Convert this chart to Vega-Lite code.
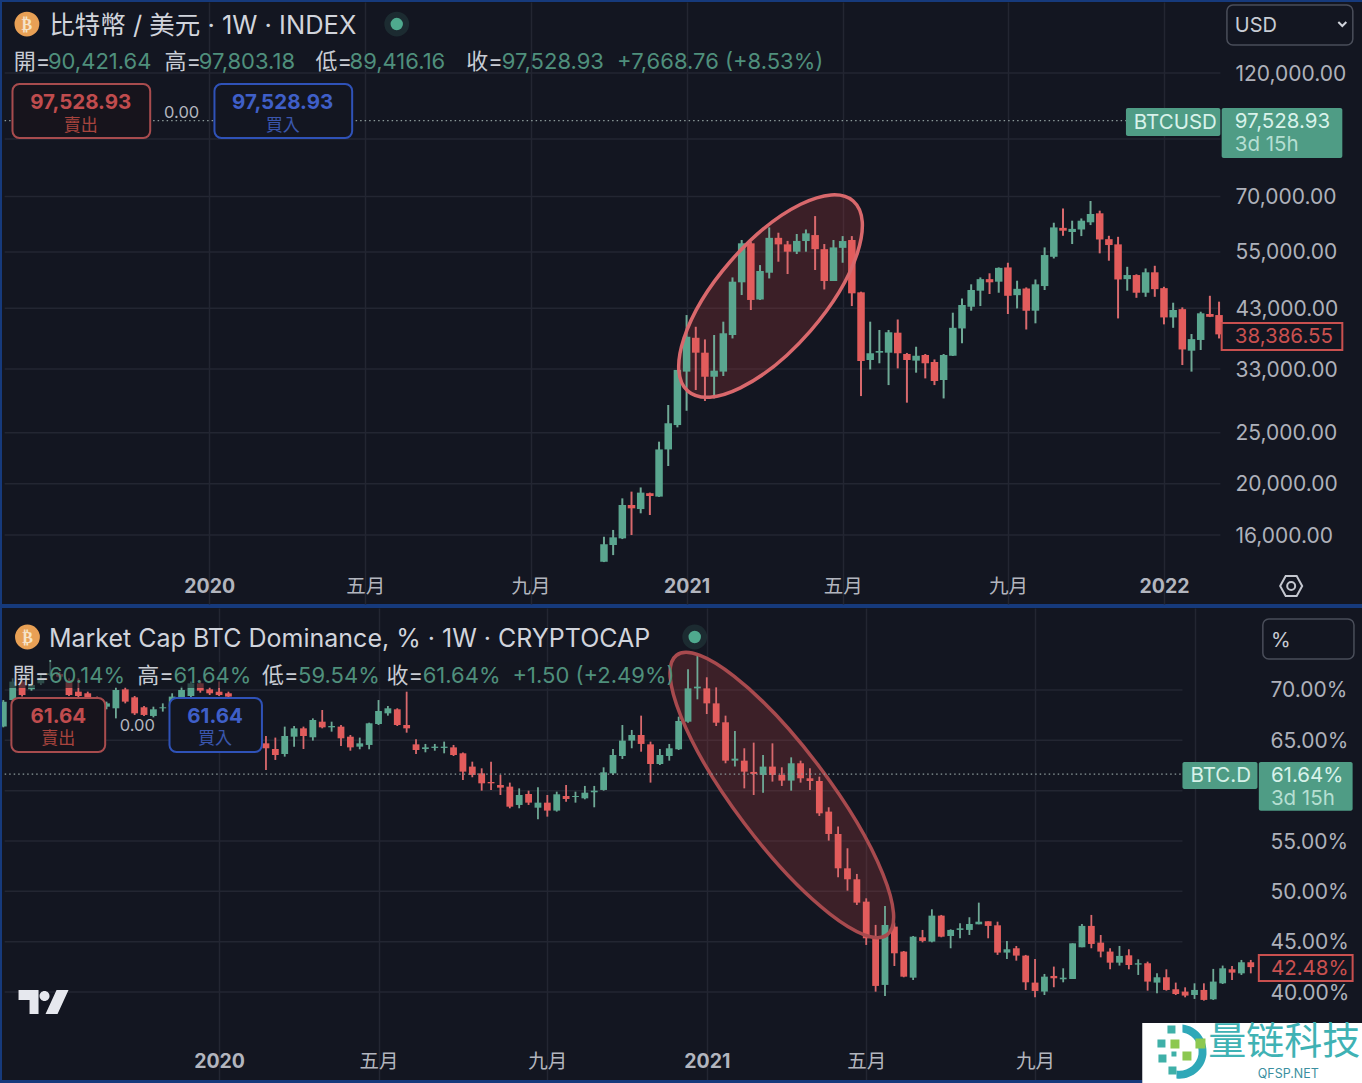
{"$schema":"https://vega.github.io/schema/vega-lite/v6.json","background":"#163a7c","padding":{"left":2,"top":2,"right":0,"bottom":0},"spacing":4,"config":{"view":{"fill":"#131621","stroke":null},"text":{"font":"Inter, 'Noto Sans CJK TC', sans-serif","align":"left","baseline":"middle","dy":1},"axis":{"labelFont":"Inter, 'Noto Sans CJK TC', sans-serif","title":null}},
"datasets":{
"btc":[{"t":"2020-11-02","o":14240,"h":15880,"l":14220,"c":15370},{"t":"2020-11-09","o":15320,"h":16360,"l":14660,"c":15840},{"t":"2020-11-16","o":15770,"h":18775,"l":15720,"c":18240},{"t":"2020-11-23","o":18240,"h":19335,"l":16000,"c":17975},{"t":"2020-11-30","o":17920,"h":19690,"l":17590,"c":19250},{"t":"2020-12-07","o":19200,"h":19250,"l":17460,"c":18970},{"t":"2020-12-14","o":18920,"h":24040,"l":18890,"c":23240},{"t":"2020-12-21","o":23240,"h":28210,"l":21620,"c":26050},{"t":"2020-12-28","o":25850,"h":32870,"l":25590,"c":32870},{"t":"2021-01-04","o":32630,"h":41760,"l":27510,"c":37990},{"t":"2021-01-11","o":37820,"h":39680,"l":30120,"c":35440},{"t":"2021-01-18","o":35440,"h":37550,"l":28710,"c":31910},{"t":"2021-01-25","o":31910,"h":38280,"l":29030,"c":32770},{"t":"2021-02-01","o":32630,"h":40570,"l":32010,"c":38570},{"t":"2021-02-08","o":38280,"h":49210,"l":37710,"c":48300},{"t":"2021-02-15","o":48170,"h":57930,"l":45570,"c":57100},{"t":"2021-02-22","o":57100,"h":57500,"l":42690,"c":44600},{"t":"2021-03-01","o":44690,"h":51930,"l":44600,"c":50610},{"t":"2021-03-08","o":50230,"h":61200,"l":48990,"c":58480},{"t":"2021-03-15","o":58480,"h":59800,"l":52700,"c":56840},{"t":"2021-03-22","o":56840,"h":57700,"l":49940,"c":55050},{"t":"2021-03-29","o":55050,"h":59460,"l":54490,"c":57700},{"t":"2021-04-05","o":57670,"h":60650,"l":55050,"c":59640},{"t":"2021-04-12","o":59190,"h":64300,"l":50830,"c":55660},{"t":"2021-04-19","o":55660,"h":56920,"l":46690,"c":48450},{"t":"2021-04-26","o":48450,"h":57930,"l":48450,"c":56090},{"t":"2021-05-03","o":55980,"h":58930,"l":52460,"c":57670},{"t":"2021-05-10","o":57930,"h":58930,"l":43430,"c":45910},{"t":"2021-05-17","o":46110,"h":46240,"l":29330,"c":34180},{"t":"2021-05-24","o":34330,"h":40570,"l":32940,"c":35350},{"t":"2021-05-31","o":35440,"h":39130,"l":33840,"c":35700},{"t":"2021-06-07","o":35440,"h":39130,"l":30770,"c":38740},{"t":"2021-06-14","o":38670,"h":40960,"l":33090,"c":35350},{"t":"2021-06-21","o":35240,"h":35400,"l":28500,"c":34330},{"t":"2021-06-28","o":34230,"h":36370,"l":32480,"c":34970},{"t":"2021-07-05","o":35080,"h":35240,"l":31680,"c":33840},{"t":"2021-07-12","o":34030,"h":34410,"l":30770,"c":31320},{"t":"2021-07-19","o":31460,"h":35240,"l":29030,"c":35080},{"t":"2021-07-26","o":34970,"h":42190,"l":34930,"c":39500},{"t":"2021-08-02","o":39390,"h":44890,"l":36920,"c":43630},{"t":"2021-08-09","o":43300,"h":47750,"l":42560,"c":46580},{"t":"2021-08-16","o":46440,"h":49210,"l":43430,"c":48840},{"t":"2021-08-23","o":48840,"h":50100,"l":45770,"c":48170},{"t":"2021-08-30","o":48300,"h":51400,"l":46030,"c":51300},{"t":"2021-09-06","o":51400,"h":52460,"l":41950,"c":45420},{"t":"2021-09-13","o":45540,"h":48510,"l":42990,"c":46820},{"t":"2021-09-20","o":46900,"h":47110,"l":39210,"c":42560},{"t":"2021-09-27","o":42560,"h":48770,"l":40280,"c":47750},{"t":"2021-10-04","o":47390,"h":56090,"l":46580,"c":54250},{"t":"2021-10-11","o":53840,"h":62460,"l":53450,"c":61200},{"t":"2021-10-18","o":61080,"h":66470,"l":59000,"c":60330},{"t":"2021-10-25","o":59980,"h":63020,"l":56920,"c":60810},{"t":"2021-11-01","o":60650,"h":63640,"l":58930,"c":63020},{"t":"2021-11-08","o":62580,"h":68670,"l":61830,"c":64880},{"t":"2021-11-15","o":65080,"h":65830,"l":54660,"c":58060},{"t":"2021-11-22","o":58140,"h":59000,"l":52930,"c":56670},{"t":"2021-11-29","o":56840,"h":58740,"l":41150,"c":48770},{"t":"2021-12-06","o":48840,"h":51540,"l":46440,"c":49720},{"t":"2021-12-13","o":49720,"h":49880,"l":45020,"c":46030},{"t":"2021-12-20","o":46030,"h":51170,"l":45220,"c":50320},{"t":"2021-12-27","o":50320,"h":51770,"l":45220,"c":46750},{"t":"2022-01-03","o":46960,"h":47240,"l":40100,"c":41330},{"t":"2022-01-10","o":41330,"h":44070,"l":39500,"c":42690},{"t":"2022-01-17","o":42850,"h":43180,"l":33580,"c":35940},{"t":"2022-01-24","o":35750,"h":38450,"l":32630,"c":37600},{"t":"2022-01-31","o":37460,"h":42370,"l":35860,"c":42080},{"t":"2022-02-07","o":41950,"h":45420,"l":41390,"c":41440},{"t":"2022-02-14","o":41760,"h":44270,"l":37710,"c":38386.55}],
"dom":[{"t":"2019-07-29","o":66.36,"h":69.0,"l":66.29,"c":68.84},{"t":"2019-08-05","o":69.0,"h":71.16,"l":68.84,"c":70.83},{"t":"2019-08-12","o":70.83,"h":71.0,"l":69.34,"c":69.5},{"t":"2019-08-19","o":70.06,"h":70.66,"l":69.93,"c":70.5},{"t":"2019-08-26","o":70.66,"h":71.49,"l":70.49,"c":71.16},{"t":"2019-09-02","o":71.49,"h":72.98,"l":71.39,"c":71.65},{"t":"2019-09-09","o":71.59,"h":71.79,"l":71.16,"c":71.32},{"t":"2019-09-16","o":70.99,"h":71.16,"l":69.4,"c":69.5},{"t":"2019-09-23","o":69.83,"h":71.16,"l":69.27,"c":69.4},{"t":"2019-09-30","o":69.67,"h":69.83,"l":69.0,"c":69.17},{"t":"2019-10-07","o":69.07,"h":69.34,"l":68.34,"c":68.51},{"t":"2019-10-14","o":68.34,"h":68.84,"l":68.08,"c":68.67},{"t":"2019-10-21","o":68.18,"h":70.26,"l":67.18,"c":70.0},{"t":"2019-10-28","o":70.06,"h":70.26,"l":68.67,"c":68.84},{"t":"2019-11-04","o":69.27,"h":69.4,"l":67.52,"c":67.68},{"t":"2019-11-11","o":68.28,"h":68.41,"l":67.42,"c":67.52},{"t":"2019-11-18","o":67.42,"h":68.34,"l":67.28,"c":68.08},{"t":"2019-11-25","o":68.18,"h":68.67,"l":67.85,"c":68.28},{"t":"2019-12-02","o":68.34,"h":69.67,"l":68.18,"c":69.34},{"t":"2019-12-09","o":69.0,"h":70.33,"l":68.84,"c":70.0},{"t":"2019-12-16","o":69.4,"h":70.83,"l":69.17,"c":70.66},{"t":"2019-12-23","o":70.66,"h":70.92,"l":69.73,"c":69.93},{"t":"2019-12-30","o":70.06,"h":70.26,"l":69.5,"c":69.67},{"t":"2020-01-06","o":69.83,"h":70.83,"l":69.4,"c":69.5},{"t":"2020-01-13","o":69.67,"h":69.83,"l":69.0,"c":69.34},{"t":"2020-01-20","o":69.0,"h":69.17,"l":67.85,"c":68.01},{"t":"2020-01-27","o":68.01,"h":68.18,"l":66.52,"c":66.69},{"t":"2020-02-03","o":66.52,"h":66.69,"l":64.87,"c":65.03},{"t":"2020-02-10","o":64.7,"h":65.43,"l":62.05,"c":64.21},{"t":"2020-02-17","o":64.14,"h":65.27,"l":63.05,"c":63.54},{"t":"2020-02-24","o":63.64,"h":66.36,"l":63.38,"c":65.43},{"t":"2020-03-02","o":65.36,"h":66.42,"l":64.37,"c":66.19},{"t":"2020-03-09","o":66.19,"h":66.36,"l":64.14,"c":65.43},{"t":"2020-03-16","o":65.3,"h":67.18,"l":64.97,"c":67.02},{"t":"2020-03-23","o":66.85,"h":68.01,"l":66.19,"c":66.29},{"t":"2020-03-30","o":66.29,"h":66.85,"l":65.86,"c":66.42},{"t":"2020-04-06","o":66.36,"h":66.52,"l":64.44,"c":65.2},{"t":"2020-04-13","o":65.36,"h":65.53,"l":63.97,"c":64.3},{"t":"2020-04-20","o":64.37,"h":65.27,"l":64.11,"c":64.7},{"t":"2020-04-27","o":64.54,"h":66.75,"l":64.11,"c":66.69},{"t":"2020-05-04","o":66.62,"h":69.0,"l":66.52,"c":67.91},{"t":"2020-05-11","o":67.68,"h":68.41,"l":67.45,"c":68.18},{"t":"2020-05-18","o":68.08,"h":68.18,"l":66.42,"c":66.52},{"t":"2020-05-25","o":66.52,"h":69.83,"l":65.76,"c":66.19},{"t":"2020-06-01","o":64.6,"h":65.1,"l":63.64,"c":64.04},{"t":"2020-06-08","o":64.14,"h":64.64,"l":63.81,"c":64.3},{"t":"2020-06-15","o":64.24,"h":64.64,"l":63.97,"c":64.37},{"t":"2020-06-22","o":64.24,"h":64.87,"l":63.71,"c":64.37},{"t":"2020-06-29","o":64.3,"h":64.54,"l":63.44,"c":63.54},{"t":"2020-07-06","o":63.71,"h":63.78,"l":61.06,"c":61.89},{"t":"2020-07-13","o":62.39,"h":62.88,"l":61.33,"c":61.56},{"t":"2020-07-20","o":61.72,"h":62.22,"l":60.0,"c":60.73},{"t":"2020-07-27","o":60.86,"h":62.88,"l":60.07,"c":60.73},{"t":"2020-08-03","o":60.56,"h":61.56,"l":59.57,"c":60.3},{"t":"2020-08-10","o":60.4,"h":60.8,"l":58.25,"c":58.41},{"t":"2020-08-17","o":58.58,"h":60.23,"l":58.25,"c":59.57},{"t":"2020-08-24","o":59.67,"h":60.0,"l":58.58,"c":58.81},{"t":"2020-08-31","o":58.31,"h":60.33,"l":57.16,"c":58.81},{"t":"2020-09-07","o":58.81,"h":59.57,"l":57.42,"c":58.02},{"t":"2020-09-14","o":58.02,"h":59.9,"l":57.92,"c":59.64},{"t":"2020-09-21","o":59.47,"h":60.56,"l":58.91,"c":59.17},{"t":"2020-09-28","o":59.37,"h":59.9,"l":58.81,"c":59.47},{"t":"2020-10-05","o":59.24,"h":60.47,"l":59.14,"c":59.8},{"t":"2020-10-12","o":59.84,"h":60.47,"l":58.35,"c":60.0},{"t":"2020-10-19","o":60.07,"h":62.32,"l":60.0,"c":61.82},{"t":"2020-10-26","o":61.72,"h":64.14,"l":61.56,"c":63.54},{"t":"2020-11-02","o":63.44,"h":66.52,"l":63.15,"c":64.97},{"t":"2020-11-09","o":64.97,"h":66.03,"l":64.21,"c":65.53},{"t":"2020-11-16","o":65.53,"h":67.45,"l":63.87,"c":64.64},{"t":"2020-11-23","o":64.6,"h":64.87,"l":60.8,"c":62.65},{"t":"2020-11-30","o":62.65,"h":64.14,"l":62.55,"c":63.54},{"t":"2020-12-07","o":63.44,"h":64.64,"l":62.98,"c":64.21},{"t":"2020-12-14","o":64.11,"h":67.35,"l":64.04,"c":66.92},{"t":"2020-12-21","o":66.85,"h":72.05,"l":66.75,"c":70.16},{"t":"2020-12-28","o":70.16,"h":73.37,"l":69.07,"c":70.33},{"t":"2021-01-04","o":70.16,"h":71.26,"l":67.61,"c":68.67},{"t":"2021-01-11","o":68.67,"h":70.26,"l":66.42,"c":66.75},{"t":"2021-01-18","o":66.79,"h":67.45,"l":62.72,"c":62.98},{"t":"2021-01-25","o":62.98,"h":65.93,"l":62.39,"c":63.18},{"t":"2021-02-01","o":62.98,"h":64.21,"l":60.23,"c":61.89},{"t":"2021-02-08","o":61.86,"h":64.77,"l":59.57,"c":61.66},{"t":"2021-02-15","o":61.56,"h":63.54,"l":59.8,"c":62.39},{"t":"2021-02-22","o":62.39,"h":64.7,"l":60.9,"c":61.56},{"t":"2021-03-01","o":61.56,"h":62.32,"l":60.47,"c":61.0},{"t":"2021-03-08","o":61.0,"h":63.31,"l":60.0,"c":62.72},{"t":"2021-03-15","o":62.72,"h":62.98,"l":60.8,"c":61.23},{"t":"2021-03-22","o":61.23,"h":62.22,"l":60.07,"c":60.96},{"t":"2021-03-29","o":60.96,"h":61.39,"l":57.49,"c":57.75},{"t":"2021-04-05","o":57.92,"h":58.35,"l":55.04,"c":55.7},{"t":"2021-04-12","o":55.7,"h":56.43,"l":51.4,"c":52.29},{"t":"2021-04-19","o":52.29,"h":54.28,"l":50.07,"c":51.2},{"t":"2021-04-26","o":51.2,"h":51.73,"l":48.65,"c":48.88},{"t":"2021-05-03","o":48.98,"h":49.31,"l":44.68,"c":45.34},{"t":"2021-05-10","o":45.5,"h":46.67,"l":40.04,"c":40.61},{"t":"2021-05-17","o":40.71,"h":48.55,"l":39.61,"c":46.66},{"t":"2021-05-24","o":46.5,"h":46.9,"l":42.59,"c":43.85},{"t":"2021-05-31","o":44.02,"h":44.08,"l":41.47,"c":41.53},{"t":"2021-06-07","o":41.43,"h":45.57,"l":41.2,"c":45.5},{"t":"2021-06-14","o":45.44,"h":46.17,"l":44.94,"c":45.08},{"t":"2021-06-21","o":45.01,"h":48.22,"l":44.94,"c":47.59},{"t":"2021-06-28","o":47.59,"h":47.66,"l":45.44,"c":45.5},{"t":"2021-07-05","o":45.57,"h":46.23,"l":44.35,"c":46.17},{"t":"2021-07-12","o":46.17,"h":46.83,"l":45.34,"c":46.33},{"t":"2021-07-19","o":46.17,"h":47.43,"l":45.67,"c":46.76},{"t":"2021-07-26","o":46.73,"h":48.88,"l":46.73,"c":46.99},{"t":"2021-08-02","o":47.03,"h":47.03,"l":45.34,"c":46.57},{"t":"2021-08-09","o":46.63,"h":46.99,"l":43.69,"c":43.92},{"t":"2021-08-16","o":43.92,"h":45.08,"l":43.29,"c":44.25},{"t":"2021-08-23","o":44.35,"h":44.58,"l":43.12,"c":43.62},{"t":"2021-08-30","o":43.62,"h":43.69,"l":40.21,"c":40.97},{"t":"2021-09-06","o":40.94,"h":43.29,"l":39.48,"c":40.11},{"t":"2021-09-13","o":40.05,"h":41.8,"l":39.71,"c":41.53},{"t":"2021-09-20","o":41.6,"h":42.53,"l":40.48,"c":41.37},{"t":"2021-09-27","o":41.27,"h":42.36,"l":40.97,"c":41.43},{"t":"2021-10-04","o":41.3,"h":44.84,"l":41.3,"c":44.84},{"t":"2021-10-11","o":44.45,"h":46.76,"l":44.45,"c":46.57},{"t":"2021-10-18","o":46.57,"h":47.66,"l":44.35,"c":44.78},{"t":"2021-10-25","o":44.91,"h":45.67,"l":43.45,"c":44.02},{"t":"2021-11-01","o":44.02,"h":44.35,"l":42.26,"c":42.92},{"t":"2021-11-08","o":42.92,"h":44.58,"l":42.63,"c":43.59},{"t":"2021-11-15","o":43.65,"h":44.25,"l":42.26,"c":42.69},{"t":"2021-11-22","o":42.73,"h":43.25,"l":41.7,"c":42.86},{"t":"2021-11-29","o":42.86,"h":43.02,"l":40.14,"c":41.04},{"t":"2021-12-06","o":40.94,"h":41.86,"l":39.88,"c":41.47},{"t":"2021-12-13","o":41.47,"h":42.26,"l":40.14,"c":40.21},{"t":"2021-12-20","o":40.28,"h":40.94,"l":39.71,"c":39.81},{"t":"2021-12-27","o":40.05,"h":40.47,"l":39.48,"c":39.65},{"t":"2022-01-03","o":39.71,"h":40.87,"l":39.32,"c":40.21},{"t":"2022-01-10","o":40.21,"h":40.87,"l":39.15,"c":39.22},{"t":"2022-01-17","o":39.28,"h":42.3,"l":39.22,"c":41.04},{"t":"2022-01-24","o":40.87,"h":42.63,"l":40.8,"c":42.36},{"t":"2022-01-31","o":42.26,"h":42.59,"l":41.2,"c":41.93},{"t":"2022-02-07","o":41.86,"h":43.19,"l":41.7,"c":42.96},{"t":"2022-02-14","o":42.96,"h":43.19,"l":41.86,"c":42.48}]
},
"vconcat":[
{"width":1360,"height":602,
"encoding":{"x":{"field":"t","type":"temporal","scale":{"type":"utc","padding":0,"domain":[{"year":2019,"month":8,"date":1,"utc":true},{"year":2022,"month":6,"date":3,"utc":true}]},"axis":{"orient":"bottom","offset":-18,"values":[{"year":2020,"month":1,"date":6,"utc":true},{"year":2020,"month":5,"date":4,"utc":true},{"year":2020,"month":9,"date":7,"utc":true},{"year":2021,"month":1,"date":4,"utc":true},{"year":2021,"month":5,"date":3,"utc":true},{"year":2021,"month":9,"date":6,"utc":true},{"year":2022,"month":1,"date":3,"utc":true}],"labelExpr":"utcmonth(datum.value)==0 ? ''+utcyear(datum.value) : (utcmonth(datum.value)==4 ? '五月' : '九月')","labelFontWeight":{"condition":{"test":"utcmonth(datum.value)==0","value":"bold"},"value":"normal"},"labelColor":"#b2b5be","labelFontSize":19.5,"labelPadding":0,"labelBaseline":"middle","tickSize":0,"domain":false,"grid":true,"gridColor":"#232632","gridWidth":1.5,"labelOverlap":false}},
"y":{"field":"v","type":"quantitative","scale":{"type":"log","domain":[11844,163560],"nice":false},"axis":{"orient":"right","offset":-127,"values":[120000,70000,55000,43000,33000,25000,20000,16000],"format":",.2f","labelColor":"#aeb1ba","labelFontSize":21,"labelAlign":"left","labelPadding":0,"labelOffset":1,"tickSize":0,"domain":false,"grid":false,"labelOverlap":false}}},
"layer":[
{"data":{"values":[{"t":"2019-08-03","t2":"2022-02-15","v":120000},{"t":"2019-08-03","t2":"2022-02-15","v":90000},{"t":"2019-08-03","t2":"2022-02-15","v":70000},{"t":"2019-08-03","t2":"2022-02-15","v":55000},{"t":"2019-08-03","t2":"2022-02-15","v":43000},{"t":"2019-08-03","t2":"2022-02-15","v":33000},{"t":"2019-08-03","t2":"2022-02-15","v":25000},{"t":"2019-08-03","t2":"2022-02-15","v":20000},{"t":"2019-08-03","t2":"2022-02-15","v":16000}]},"mark":{"type":"rule","color":"#232632","strokeWidth":1.5},"encoding":{"x2":{"field":"t2"}}},
{"data":{"values":[{"t":"2021-03-09","v":45370}]},"mark":{"type":"point","shape":"M -126 0 A 126 53 0 1 0 126 0 A 126 53 0 1 0 -126 0 Z","size":4,"angle":-49,"filled":true,"fill":"#b43c3c","fillOpacity":0.25,"opacity":1}},
{"data":{"name":"btc"},"mark":{"type":"rule","strokeWidth":2},"encoding":{"y":{"field":"h","type":"quantitative"},"y2":{"field":"l"},"color":{"condition":{"test":"datum.c>=datum.o","value":"#6fa996"},"value":"#d9696d"}}},
{"data":{"name":"btc"},"mark":{"type":"bar","size":7.5,"orient":"vertical"},"encoding":{"y":{"field":"o","type":"quantitative"},"y2":{"field":"c"},"color":{"condition":{"test":"datum.c>=datum.o","value":"#5aa68f"},"value":"#e25c5c"}}},
{"data":{"values":[{"t":"2021-03-09","v":45370}]},"mark":{"type":"point","shape":"M -126 0 A 126 53 0 1 0 126 0 A 126 53 0 1 0 -126 0 Z","size":4,"angle":-49,"filled":false,"stroke":"#d9686c","strokeWidth":3.5,"opacity":1}},
{"data":{"values":[{"t":"2019-08-03","t2":"2021-12-05","v":97528.93}]},"mark":{"type":"rule","color":"#8c9a9a","strokeWidth":1.3,"strokeDash":[1.5,3]},"encoding":{"x2":{"field":"t2"}}},
{"data":{"values":[{"t":"2019-08-09","t2":"2019-11-22","v":114380,"v2":90370}]},"mark":{"type":"rect","fill":"#17141c","stroke":"#a84c4e","strokeWidth":2,"cornerRadius":7},"encoding":{"x2":{"field":"t2"},"y2":{"field":"v2"}}},
{"data":{"values":[{"t":"2020-01-10","t2":"2020-04-24","v":114380,"v2":90370}]},"mark":{"type":"rect","fill":"#131621","stroke":"#2f52b8","strokeWidth":2,"cornerRadius":7},"encoding":{"x2":{"field":"t2"},"y2":{"field":"v2"}}},
{"data":{"values":[{"t":"2021-12-05","t2":"2022-02-15","v":103020,"v2":91170},{"t":"2022-02-16","t2":"2022-05-19","v":103020,"v2":82840}]},"mark":{"type":"rect","fill":"#4f9c85","cornerRadius":2},"encoding":{"x2":{"field":"t2"},"y2":{"field":"v2"}}},
{"data":{"values":[{"t":"2022-02-16","t2":"2022-05-19","v":40330,"v2":35860}]},"mark":{"type":"rect","fill":"#131621","stroke":"#c9504f","strokeWidth":2},"encoding":{"x2":{"field":"t2"},"y2":{"field":"v2"}}},
{"data":{"values":[{"t":"2022-02-20","t2":"2022-05-27","v":161420,"v2":135590}]},"mark":{"type":"rect","fill":"#131621","stroke":"#4a4e5a","strokeWidth":1.5,"cornerRadius":6},"encoding":{"x2":{"field":"t2"},"y2":{"field":"v2"}}},
{"data":{"values":[{"t":"2019-08-20","v":148570}]},"mark":{"type":"point","shape":"circle","size":616,"filled":true,"fill":"#e8a055","opacity":1}},
{"data":{"values":[{"t":"2020-05-28","v":148570}]},"mark":{"type":"point","shape":"circle","size":616,"filled":true,"fill":"#4fa98e","opacity":0.15}},
{"data":{"values":[{"t":"2020-05-28","v":148570}]},"mark":{"type":"point","shape":"circle","size":154,"filled":true,"fill":"#4fa98e","opacity":1}},
{"data":{"values":[{"t":"2022-05-19","v":148570}]},"mark":{"type":"point","shape":"M -4 -2 L 0 2 L 4 -2","size":4,"filled":false,"stroke":"#d1d4dc","strokeWidth":2,"opacity":1}},
{"data":{"values":[{"t":"2022-04-10","v":12810}]},"mark":{"type":"point","shape":"M -11 0 L -5.5 -10 L 5.5 -10 L 11 0 L 5.5 10 L -5.5 10 Z M 4 0 A 4 4 0 1 1 -4 0 A 4 4 0 1 1 4 0 Z","size":4,"filled":false,"stroke":"#c4c7cf","strokeWidth":2,"opacity":1}},
{"data":{"values":[{"text":"₿","t":"2019-08-20","v":148570}]},"mark":{"type":"text","align":"center","font":"DejaVu Sans","fontSize":16,"fontWeight":"bold","color":"#f6e3c8"},"encoding":{"text":{"field":"text"}}},
{"data":{"values":[{"text":"比特幣 / 美元 · 1W · INDEX","t":"2019-09-06","v":147950}]},"mark":{"type":"text","fontSize":25.5,"color":"#d1d4dc"},"encoding":{"text":{"field":"text"}}},
{"data":{"values":[{"text":"開=","t":"2019-08-10","v":126450},{"text":"高=","t":"2019-12-03","v":126450},{"text":"低=","t":"2020-03-27","v":126450},{"text":"收=","t":"2020-07-20","v":126450}]},"mark":{"type":"text","fontSize":22,"color":"#c8ccd4"},"encoding":{"text":{"field":"text"}}},
{"data":{"values":[{"text":"90,421.64","t":"2019-09-05","v":126450},{"text":"97,803.18","t":"2019-12-29","v":126450},{"text":"89,416.16","t":"2020-04-22","v":126450},{"text":"97,528.93","t":"2020-08-16","v":126450},{"text":"+7,668.76 (+8.53%)","t":"2020-11-12","v":126450}]},"mark":{"type":"text","fontSize":22,"color":"#4f8f7c"},"encoding":{"text":{"field":"text"}}},
{"data":{"values":[{"text":"97,528.93","t":"2019-09-30","v":105740}]},"mark":{"type":"text","align":"center","fontSize":20.5,"fontWeight":"bold","color":"#c04c4e"},"encoding":{"text":{"field":"text"}}},
{"data":{"values":[{"text":"賣出","t":"2019-09-30","v":95650}]},"mark":{"type":"text","align":"center","fontSize":17,"color":"#a8443e"},"encoding":{"text":{"field":"text"}}},
{"data":{"values":[{"text":"97,528.93","t":"2020-03-02","v":105740}]},"mark":{"type":"text","align":"center","fontSize":20.5,"fontWeight":"bold","color":"#3f5fc8"},"encoding":{"text":{"field":"text"}}},
{"data":{"values":[{"text":"買入","t":"2020-03-02","v":95650}]},"mark":{"type":"text","align":"center","fontSize":17,"color":"#3a56ae"},"encoding":{"text":{"field":"text"}}},
{"data":{"values":[{"text":"0.00","t":"2019-12-16","v":101230}]},"mark":{"type":"text","align":"center","fontSize":16.5,"color":"#b2b5be"},"encoding":{"text":{"field":"text"}}},
{"data":{"values":[{"text":"BTCUSD","t":"2021-12-11","v":96910},{"text":"97,528.93","t":"2022-02-26","v":97330}]},"mark":{"type":"text","fontSize":20.5,"color":"#d8f2ea"},"encoding":{"text":{"field":"text"}}},
{"data":{"values":[{"text":"3d 15h","t":"2022-02-26","v":88040}]},"mark":{"type":"text","fontSize":20.5,"color":"#b5dfd2"},"encoding":{"text":{"field":"text"}}},
{"data":{"values":[{"text":"38,386.55","t":"2022-02-26","v":38110}]},"mark":{"type":"text","fontSize":20.5,"color":"#c9504f"},"encoding":{"text":{"field":"text"}}},
{"data":{"values":[{"text":"USD","t":"2022-02-26","v":147950}]},"mark":{"type":"text","fontSize":20,"color":"#c8ccd4"},"encoding":{"text":{"field":"text"}}}
]},
{"width":1360,"height":475,
"encoding":{"x":{"field":"t","type":"temporal","scale":{"type":"utc","padding":0,"domain":[{"year":2019,"month":7,"date":28,"utc":true},{"year":2022,"month":5,"date":8,"utc":true}]},"axis":{"orient":"bottom","offset":-22,"values":[{"year":2020,"month":1,"date":6,"utc":true},{"year":2020,"month":5,"date":4,"utc":true},{"year":2020,"month":9,"date":7,"utc":true},{"year":2021,"month":1,"date":4,"utc":true},{"year":2021,"month":5,"date":3,"utc":true},{"year":2021,"month":9,"date":6,"utc":true},{"year":2022,"month":1,"date":3,"utc":true}],"labelExpr":"utcyear(datum.value)==2022 ? '' : (utcmonth(datum.value)==0 ? ''+utcyear(datum.value) : (utcmonth(datum.value)==4 ? '五月' : '九月'))","labelFontWeight":{"condition":{"test":"utcmonth(datum.value)==0","value":"bold"},"value":"normal"},"labelColor":"#b2b5be","labelFontSize":19.5,"labelPadding":0,"labelBaseline":"middle","tickSize":0,"domain":false,"grid":true,"gridColor":"#232632","gridWidth":1.5,"labelOverlap":false}},
"y":{"field":"v","type":"quantitative","scale":{"type":"linear","domain":[30.97,78.14],"nice":false,"zero":false},"axis":{"orient":"right","offset":-92,"values":[70,65,55,50,45,40],"labelExpr":"format(datum.value,'.2f')+'%'","labelColor":"#aeb1ba","labelFontSize":21,"labelAlign":"left","labelPadding":0,"labelOffset":1,"tickSize":0,"domain":false,"grid":false,"labelOverlap":false}}},
"layer":[
{"data":{"values":[{"t":"2019-07-30","t2":"2021-12-25","v":70},{"t":"2019-07-30","t2":"2021-12-25","v":65},{"t":"2019-07-30","t2":"2021-12-25","v":60},{"t":"2019-07-30","t2":"2021-12-25","v":55},{"t":"2019-07-30","t2":"2021-12-25","v":50},{"t":"2019-07-30","t2":"2021-12-25","v":45},{"t":"2019-07-30","t2":"2021-12-25","v":40}]},"mark":{"type":"rule","color":"#232632","strokeWidth":1.5},"encoding":{"x2":{"field":"t2"}}},
{"data":{"values":[{"t":"2021-03-01","v":59.57}]},"mark":{"type":"point","shape":"M -175 0 A 175 47 0 1 0 175 0 A 175 47 0 1 0 -175 0 Z","size":4,"angle":53,"filled":true,"fill":"#a83c3c","fillOpacity":0.28,"opacity":1}},
{"data":{"name":"dom"},"mark":{"type":"rule","strokeWidth":1.8,"clip":true},"encoding":{"y":{"field":"h","type":"quantitative"},"y2":{"field":"l"},"color":{"condition":{"test":"datum.c>=datum.o","value":"#6fa996"},"value":"#d9696d"}}},
{"data":{"name":"dom"},"mark":{"type":"bar","size":6.8,"orient":"vertical","clip":true},"encoding":{"y":{"field":"o","type":"quantitative"},"y2":{"field":"c"},"color":{"condition":{"test":"datum.c>=datum.o","value":"#5aa68f"},"value":"#e25c5c"}}},
{"data":{"values":[{"t":"2019-07-28","t2":"2020-12-08","v":72.78,"v2":70.2}]},"mark":{"type":"rect","fill":"#131621","opacity":0.62},"encoding":{"x2":{"field":"t2"},"y2":{"field":"v2"}}},
{"data":{"values":[{"t":"2021-03-01","v":59.57}]},"mark":{"type":"point","shape":"M -175 0 A 175 47 0 1 0 175 0 A 175 47 0 1 0 -175 0 Z","size":4,"angle":53,"filled":false,"stroke":"#a84a4e","strokeWidth":3.5,"opacity":1}},
{"data":{"values":[{"t":"2019-07-30","t2":"2021-12-25","v":61.64}]},"mark":{"type":"rule","color":"#8c9a9a","strokeWidth":1.3,"strokeDash":[1.5,3]},"encoding":{"x2":{"field":"t2"}}},
{"data":{"values":[{"t":"2019-08-04","t2":"2019-10-13","v":69.21,"v2":63.84}]},"mark":{"type":"rect","fill":"#17141c","stroke":"#a84c4e","strokeWidth":2,"cornerRadius":7},"encoding":{"x2":{"field":"t2"},"y2":{"field":"v2"}}},
{"data":{"values":[{"t":"2019-11-30","t2":"2020-02-07","v":69.21,"v2":63.84}]},"mark":{"type":"rect","fill":"#131621","stroke":"#2f52b8","strokeWidth":2,"cornerRadius":7},"encoding":{"x2":{"field":"t2"},"y2":{"field":"v2"}}},
{"data":{"values":[{"t":"2021-12-25","t2":"2022-02-19","v":62.85,"v2":60.17},{"t":"2022-02-20","t2":"2022-05-01","v":62.85,"v2":58.0}]},"mark":{"type":"rect","fill":"#4f9c85","cornerRadius":2},"encoding":{"x2":{"field":"t2"},"y2":{"field":"v2"}}},
{"data":{"values":[{"t":"2022-02-20","t2":"2022-05-01","v":43.69,"v2":41.1}]},"mark":{"type":"rect","fill":"#131621","stroke":"#c9504f","strokeWidth":2},"encoding":{"x2":{"field":"t2"},"y2":{"field":"v2"}}},
{"data":{"values":[{"t":"2022-02-23","t2":"2022-05-02","v":77.05,"v2":73.08}]},"mark":{"type":"rect","fill":"#131621","stroke":"#4a4e5a","strokeWidth":1.5,"cornerRadius":6},"encoding":{"x2":{"field":"t2"},"y2":{"field":"v2"}}},
{"data":{"values":[{"t":"2019-07-28","t2":"2021-11-25","v":31.27,"v2":30.97}]},"mark":{"type":"rect","fill":"#163a7c"},"encoding":{"x2":{"field":"t2"},"y2":{"field":"v2"}}},
{"data":{"values":[{"t":"2019-08-16","v":75.26}]},"mark":{"type":"point","shape":"circle","size":616,"filled":true,"fill":"#e8a055","opacity":1}},
{"data":{"values":[{"t":"2020-12-26","v":75.26}]},"mark":{"type":"point","shape":"circle","size":616,"filled":true,"fill":"#4fa98e","opacity":0.15}},
{"data":{"values":[{"t":"2020-12-26","v":75.26}]},"mark":{"type":"point","shape":"circle","size":154,"filled":true,"fill":"#4fa98e","opacity":1}},
{"data":{"values":[{"t":"2019-08-28","v":39.02}]},"mark":{"type":"point","shape":"M -25 -12 H -5 V 12 H -14 V -2 H -25 Z M 6 -6 A 5 5 0 1 1 -4 -6 A 5 5 0 1 1 6 -6 Z M 2 12 L 13 -12 H 25 L 14 12 Z","size":4,"filled":true,"fill":"#e6e8ee","opacity":1}},
{"data":{"values":[{"text":"₿","t":"2019-08-16","v":75.26}]},"mark":{"type":"text","align":"center","font":"DejaVu Sans","fontSize":16,"fontWeight":"bold","color":"#f6e3c8"},"encoding":{"text":{"field":"text"}}},
{"data":{"values":[{"text":"Market Cap BTC Dominance, % · 1W · CRYPTOCAP","t":"2019-09-01","v":75.16}]},"mark":{"type":"text","fontSize":25,"color":"#d1d4dc"},"encoding":{"text":{"field":"text"}}},
{"data":{"values":[{"text":"開=","t":"2019-08-05","v":71.49},{"text":"高=","t":"2019-11-06","v":71.49},{"text":"低=","t":"2020-02-07","v":71.49},{"text":"收=","t":"2020-05-10","v":71.49}]},"mark":{"type":"text","fontSize":22,"color":"#c8ccd4"},"encoding":{"text":{"field":"text"}}},
{"data":{"values":[{"text":"60.14%","t":"2019-09-01","v":71.49},{"text":"61.64%","t":"2019-12-03","v":71.49},{"text":"59.54%","t":"2020-03-05","v":71.49},{"text":"61.64%","t":"2020-06-06","v":71.49},{"text":"+1.50 (+2.49%)","t":"2020-08-12","v":71.49}]},"mark":{"type":"text","fontSize":22,"color":"#4f8f7c"},"encoding":{"text":{"field":"text"}}},
{"data":{"values":[{"text":"61.64","t":"2019-09-08","v":67.42}]},"mark":{"type":"text","align":"center","fontSize":20.5,"fontWeight":"bold","color":"#c04c4e"},"encoding":{"text":{"field":"text"}}},
{"data":{"values":[{"text":"賣出","t":"2019-09-08","v":65.23}]},"mark":{"type":"text","align":"center","fontSize":17,"color":"#a8443e"},"encoding":{"text":{"field":"text"}}},
{"data":{"values":[{"text":"61.64","t":"2020-01-03","v":67.42}]},"mark":{"type":"text","align":"center","fontSize":20.5,"fontWeight":"bold","color":"#3f5fc8"},"encoding":{"text":{"field":"text"}}},
{"data":{"values":[{"text":"買入","t":"2020-01-03","v":65.23}]},"mark":{"type":"text","align":"center","fontSize":17,"color":"#3a56ae"},"encoding":{"text":{"field":"text"}}},
{"data":{"values":[{"text":"0.00","t":"2019-11-06","v":66.52}]},"mark":{"type":"text","align":"center","fontSize":16.5,"color":"#b2b5be"},"encoding":{"text":{"field":"text"}}},
{"data":{"values":[{"text":"BTC.D","t":"2021-12-31","v":61.56},{"text":"61.64%","t":"2022-03-01","v":61.56}]},"mark":{"type":"text","fontSize":20.5,"color":"#d8f2ea"},"encoding":{"text":{"field":"text"}}},
{"data":{"values":[{"text":"3d 15h","t":"2022-03-01","v":59.28}]},"mark":{"type":"text","fontSize":20.5,"color":"#b5dfd2"},"encoding":{"text":{"field":"text"}}},
{"data":{"values":[{"text":"42.48%","t":"2022-03-01","v":42.39}]},"mark":{"type":"text","fontSize":20.5,"color":"#c9504f"},"encoding":{"text":{"field":"text"}}},
{"data":{"values":[{"text":"%","t":"2022-03-01","v":75.0}]},"mark":{"type":"text","fontSize":20,"color":"#c8ccd4"},"encoding":{"text":{"field":"text"}}},
{"data":{"values":[{"t":"2021-11-25","t2":"2022-05-08","v":36.93,"v2":30.97}]},"mark":{"type":"rect","fill":"#ffffff"},"encoding":{"x2":{"field":"t2"},"y2":{"field":"v2"}}},
{"data":{"values":[{"t":"2021-12-25","v":34.1}]},"mark":{"type":"point","shape":"M 0 -27 A 27 27 0 1 1 -6 27 L -6 19 A 19 19 0 0 0 0 -19 Z","size":4,"filled":true,"fill":"#2fa8b8","opacity":1}},
{"data":{"values":[{"t":"2021-12-25","v":34.1}]},"mark":{"type":"point","shape":"M -15 -26 h 8 v 8 h -8 Z M -25 -12 h 8 v 8 h -8 Z M -24 3 h 8 v 8 h -8 Z M -14 15 h 8 v 8 h -8 Z M -11 0 h 5 v 5 h -5 Z","size":4,"filled":true,"fill":"#3fb0a8","opacity":1}},
{"data":{"values":[{"t":"2021-12-25","v":34.1}]},"mark":{"type":"point","shape":"M -12 -12 h 9 v 9 h -9 Z M 0 0 h 9 v 9 h -9 Z M 13 -13 h 10 v 10 h -10 Z","size":4,"filled":true,"fill":"#8cc850","opacity":1}},
{"data":{"values":[{"text":"量链科技","t":"2022-03-11","v":35.05}]},"mark":{"type":"text","align":"center","font":"Noto Sans CJK SC","fontSize":38,"color":"#3fb2b4"},"encoding":{"text":{"field":"text"}}},
{"data":{"values":[{"text":"QFSP.NET","t":"2022-03-14","v":31.97}]},"mark":{"type":"text","align":"center","fontSize":12.5,"color":"#3a8fa0"},"encoding":{"text":{"field":"text"}}}
]}
]}
